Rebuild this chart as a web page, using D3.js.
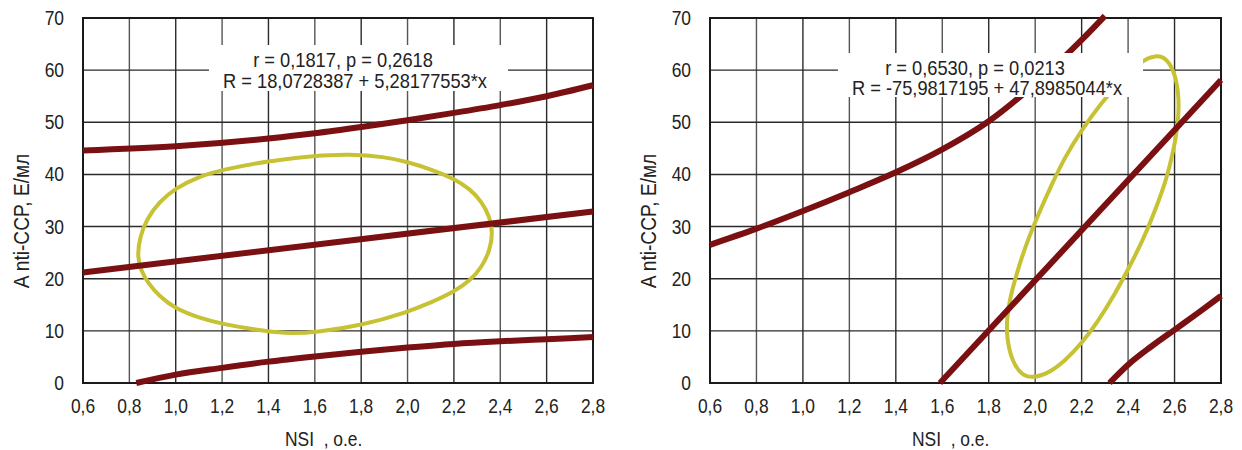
<!DOCTYPE html>
<html>
<head>
<meta charset="utf-8">
<script src="https://cdn.jsdelivr.net/npm/d3@7/dist/d3.min.js"></script>
<style>
  body { margin: 0; background: #fff; }
  svg text {
    font-family: "Liberation Sans", Arial, sans-serif;
    fill: #222;
    white-space: pre;
  }
</style>
</head>
<body>
<svg width="1242" height="450"></svg>
<script>
/* global d3 */

// tick labels
const xTicks = [0.6, 0.8, 1.0, 1.2, 1.4, 1.6, 1.8, 2.0, 2.2, 2.4, 2.6, 2.8];
const yTicks = [0, 10, 20, 30, 40, 50, 60, 70];

const xTitle = "NSI  , o.e.";
const yTitle = "A nti-CCP, E/мл";

// left panel
const leftStats = ["r = 0,1817, p = 0,2618", "R = 18,0728387 + 5,28177553*x"];
const leftFit = [[0.6, 21.2], [2.8, 32.9]];
const leftUpper = [[0.6, 44.6], [1.0, 45.4], [1.4, 46.9], [1.6, 47.9], [1.8, 49.1],
  [2.0, 50.4], [2.2, 51.8], [2.4, 53.3], [2.6, 55.0], [2.8, 57.1]];
const leftLower = [[0.83, 0], [1.0, 1.6], [1.2, 2.9], [1.4, 4.1], [1.6, 5.1], [1.8, 6.0],
  [2.0, 6.8], [2.2, 7.5], [2.4, 8.0], [2.6, 8.4], [2.8, 8.8]];
const leftEllipse = [[0.834, 24.2], [0.845, 28.0], [0.875, 31.5], [0.93, 34.8], [1.0, 37.4],
  [1.1, 39.6], [1.2, 40.9], [1.4, 42.6], [1.6, 43.6], [1.75, 43.9], [1.9, 43.4], [2.0, 42.4],
  [2.1, 41.0], [2.2, 39.2], [2.27, 37.2], [2.32, 34.8], [2.355, 31.8], [2.368, 28.8],
  [2.355, 25.4], [2.32, 22.2], [2.27, 19.6], [2.2, 17.5], [2.1, 15.4], [2.0, 13.6],
  [1.8, 11.0], [1.6, 9.7], [1.5, 9.5], [1.4, 9.8], [1.2, 11.3], [1.1, 12.5], [1.0, 14.2],
  [0.93, 16.6], [0.88, 19.2], [0.85, 21.6]];

// right panel
const rightStats = ["r = 0,6530, p = 0,0213", "R = -75,9817195 + 47,8985044*x"];
const rightFit = [[1.59, 0], [2.8, 58.1]];
const rightUpper = [[0.6, 26.5], [0.8, 29.6], [1.0, 33.0], [1.2, 36.6], [1.4, 40.4],
  [1.6, 44.8], [1.8, 50.2], [2.0, 57.4], [2.2, 65.8], [2.3, 70.4]];
const rightLower = [[2.32, 0], [2.4, 3.5], [2.5, 7.0], [2.6, 10.2], [2.7, 13.4], [2.8, 16.7]];
const rightEllipse = [[1.985, 0.9], [1.94, 1.6], [1.9, 4.2], [1.878, 8.5], [1.877, 12.0],
  [1.89, 16.0], [1.92, 21.0], [1.96, 26.5], [2.01, 32.0], [2.07, 38.0], [2.13, 43.5],
  [2.2, 48.5], [2.28, 53.5], [2.37, 58.0], [2.45, 61.6], [2.52, 63.0], [2.57, 62.2],
  [2.605, 59.0], [2.62, 54.5], [2.615, 49.5], [2.595, 44.5], [2.565, 39.0], [2.52, 33.5],
  [2.47, 28.0], [2.41, 22.6], [2.34, 16.8], [2.27, 11.8], [2.2, 7.6], [2.13, 4.3],
  [2.06, 1.9]];

const svg = d3.select("svg");

const panels = [
  { left: 83, right: 593, stats: leftStats, fit: leftFit, upper: leftUpper, lower: leftLower,
    ellipse: leftEllipse, box: [209, 45, 299, 46], statsX: [343, 355], statsY: [67, 88] },
  { left: 710, right: 1221, stats: rightStats, fit: rightFit, upper: rightUpper, lower: rightLower,
    ellipse: rightEllipse, box: [838, 53, 305, 44], statsX: [975, 987], statsY: [75, 95] }
];
const plotTop = 18;
const plotBottom = 383;
const narrow = " scale(0.87,1)"; // condensed look of the original typeface

const fmt = function(d) {
  return d3.format(".1f")(d).replace(".", ",");
};

function drawPanel(p) {
  const x = d3.scaleLinear().domain([0.6, 2.8]).range([p.left, p.right]);
  const y = d3.scaleLinear().domain([0, 70]).range([plotBottom, plotTop]);
  const g = svg.append("g");

  // grid
  g.selectAll(".vgrid")
    .data(xTicks)
    .enter()
    .append("line")
    .attr("x1", function(d) { return x(d); })
    .attr("x2", function(d) { return x(d); })
    .attr("y1", plotTop)
    .attr("y2", plotBottom)
    .attr("stroke", function(d, i) { return i % 2 ? "#555" : "#2a2a2a"; })
    .attr("stroke-width", 1.4);

  g.selectAll(".hgrid")
    .data(yTicks)
    .enter()
    .append("line")
    .attr("x1", p.left)
    .attr("x2", p.right)
    .attr("y1", function(d) { return y(d); })
    .attr("y2", function(d) { return y(d); })
    .attr("stroke", "#2a2a2a")
    .attr("stroke-width", 1.4);

  // frame
  g.append("rect")
    .attr("x", p.left)
    .attr("y", plotTop)
    .attr("width", p.right - p.left)
    .attr("height", plotBottom - plotTop)
    .attr("fill", "none")
    .attr("stroke", "#1a1a1a")
    .attr("stroke-width", 2);

  // tick labels
  g.selectAll(".xlab")
    .data(xTicks)
    .enter()
    .append("text")
    .attr("transform", function(d) { return "translate(" + x(d) + ",413)" + narrow; })
    .attr("text-anchor", "middle")
    .attr("font-size", 20)
    .text(fmt);

  g.selectAll(".ylab")
    .data(yTicks)
    .enter()
    .append("text")
    .attr("transform", function(d) {
      return "translate(" + (p.left - 19) + "," + (y(d) + 7) + ")" + narrow;
    })
    .attr("text-anchor", "end")
    .attr("font-size", 20)
    .text(function(d) { return d; });

  g.append("text")
    .attr("transform", "translate(" + (p.left + 202) + ",446)" + narrow)
    .attr("font-size", 20)
    .text(xTitle);

  g.append("text")
    .attr("transform", "translate(" + (p.left - 54) + ",221) rotate(-90)" + narrow)
    .attr("text-anchor", "middle")
    .attr("font-size", 22)
    .text(yTitle);

  // curves
  const line = d3.line()
    .x(function(d) { return x(d[0]); })
    .y(function(d) { return y(d[1]); });

  g.append("path")
    .datum(p.ellipse)
    .attr("d", line.curve(d3.curveBasisClosed))
    .attr("fill", "none")
    .attr("stroke", "#c6c234")
    .attr("stroke-width", 4);

  line.curve(d3.curveMonotoneX);
  [p.upper, p.fit, p.lower].forEach(function(s) {
    g.append("path")
      .datum(s)
      .attr("d", line)
      .attr("fill", "none")
      .attr("stroke", "#7a1012")
      .attr("stroke-width", 6);
  });

  // stats box
  g.append("rect")
    .attr("x", p.box[0])
    .attr("y", p.box[1])
    .attr("width", p.box[2])
    .attr("height", p.box[3])
    .attr("fill", "#fff");

  g.selectAll(".stat")
    .data(p.stats)
    .enter()
    .append("text")
    .attr("transform", function(d, i) {
      return "translate(" + p.statsX[i] + "," + p.statsY[i] + ")" + narrow;
    })
    .attr("text-anchor", "middle")
    .attr("font-size", 21)
    .text(function(d) { return d; });
}

panels.forEach(drawPanel);
</script>
</body>
</html>
